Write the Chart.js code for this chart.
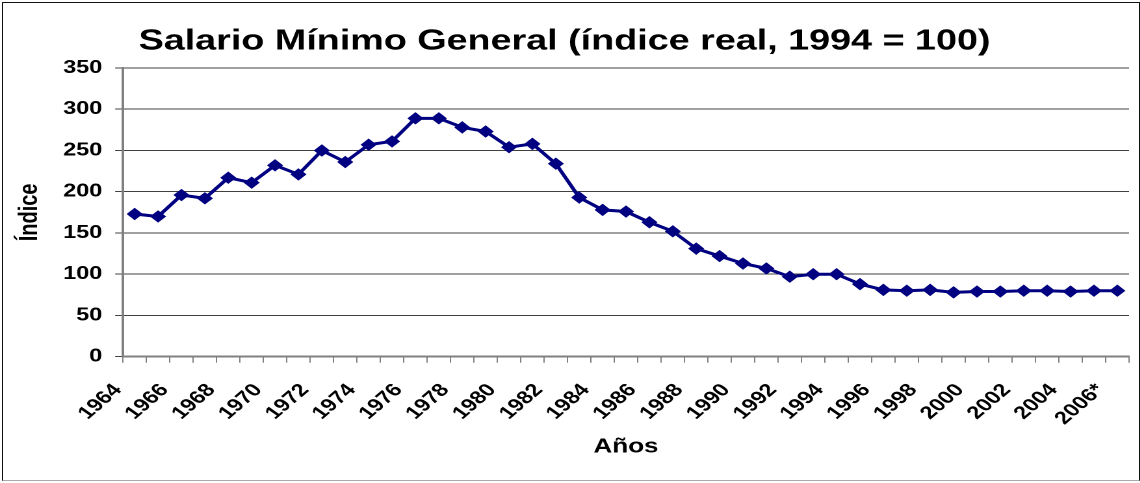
<!DOCTYPE html>
<html>
<head>
<meta charset="utf-8">
<script src="https://cdn.jsdelivr.net/npm/chart.js@4"></script>
<style>
    html, body { margin: 0; padding: 0; background: #fff; }
    body { width: 1140px; height: 483px; position: relative; overflow: hidden; }
    #frame {
        position: absolute; left: 2px; top: 2px; width: 1136px; height: 477px;
        border: 1px solid #111; border-bottom-color: #aaa; pointer-events: none;
    }
    /* the original picture is stretched horizontally, so the canvas is too */
    #wrap {
        position: absolute; left: 0; top: 0; width: 877px; height: 483px;
        transform: scaleX(1.3); transform-origin: 0 0;
    }
</style>
</head>
<body>
<div id="wrap"><canvas id="salChart" width="877" height="483"></canvas></div>
<div id="frame"></div>
<script>
const years = ['1964', '1965', '1966', '1967', '1968', '1969', '1970', '1971', '1972', '1973',
    '1974', '1975', '1976', '1977', '1978', '1979', '1980', '1981', '1982', '1983',
    '1984', '1985', '1986', '1987', '1988', '1989', '1990', '1991', '1992', '1993',
    '1994', '1995', '1996', '1997', '1998', '1999', '2000', '2001', '2002', '2003',
    '2004', '2005', '2006*'];

const salarioReal = [173, 170, 196, 192, 217, 211, 232, 221, 250, 236,
    257, 261, 289, 289, 278, 273, 254, 258, 234, 193,
    178, 176, 163, 152, 131, 122, 113, 107, 97, 100,
    100, 88, 81, 80, 81, 78, 79, 79, 80, 80,
    79, 80, 80];

const yTicks = [0, 50, 100, 150, 200, 250, 300, 350];

document.addEventListener('DOMContentLoaded', () => {
    const font = '"Liberation Sans", Arial, sans-serif';
    const ctx = document.getElementById('salChart').getContext('2d');

    new Chart(ctx, {
        type: 'line',
        data: {
            labels: years,
            datasets: [{
                label: 'Salario Mínimo General',
                data: salarioReal,
                borderColor: '#000080',
                backgroundColor: '#000080',
                borderWidth: 3,
                pointStyle: 'rectRot',
                pointRadius: 5.5,
                pointBorderWidth: 1,
                pointBackgroundColor: '#000080',
                pointBorderColor: '#000080',
                tension: 0
            }]
        },
        options: {
            responsive: false,
            animation: false,
            devicePixelRatio: 2,
            layout: { padding: { left: 0, right: 8.5, top: 0, bottom: 0 } },
            plugins: {
                legend: { display: false },
                tooltip: { enabled: false },
                title: {
                    display: true,
                    text: 'Salario Mínimo General (índice real, 1994 = 100)',
                    color: '#000',
                    font: { family: font, size: 29, weight: 'bold', lineHeight: 1.2 },
                    padding: { top: 24, bottom: 9.2 }
                }
            },
            scales: {
                x: {
                    offset: true,
                    grid: {
                        offset: true,
                        drawOnChartArea: false,
                        drawTicks: true,
                        tickLength: 6,
                        color: '#808080'
                    },
                    border: { color: '#808080', width: 2 },
                    ticks: {
                        autoSkip: false,
                        minRotation: 48,
                        maxRotation: 48,
                        padding: 17,
                        labelOffset: -13,
                        color: '#000',
                        font: { family: font, size: 18, weight: 'bold' },
                        // only every other year gets a label
                        callback: (value, index) => index % 2 === 0 ? years[index] : ''
                    },
                    title: {
                        display: true,
                        text: 'Años',
                        color: '#000',
                        font: { family: font, size: 20, weight: 'bold', lineHeight: 1.2 },
                        padding: { top: 0, bottom: 24 }
                    },
                    afterFit: (scale) => {
                        scale.height = 126.3;
                        // keep the plot right edge where the original has it
                        scale.paddingRight = 0;
                        scale.paddingLeft = 0;
                    }
                },
                y: {
                    min: 0,
                    max: 350,
                    afterBuildTicks: (scale) => { scale.ticks = yTicks.map(v => ({ value: v })); },
                    grid: {
                        color: '#404040',
                        lineWidth: 1,
                        tickLength: 6
                    },
                    border: { color: '#808080', width: 2 },
                    ticks: {
                        padding: 10,
                        color: '#000',
                        font: { family: font, size: 18, weight: 'bold' }
                    },
                    title: {
                        display: true,
                        text: 'Índice',
                        color: '#000',
                        font: { family: font, size: 20, weight: 'bold', lineHeight: 1.2 },
                        padding: { top: 11, bottom: 0 }
                    },
                    afterFit: (scale) => { scale.width = 94.6; }
                }
            }
        }
    });
});
</script>
</body>
</html>
